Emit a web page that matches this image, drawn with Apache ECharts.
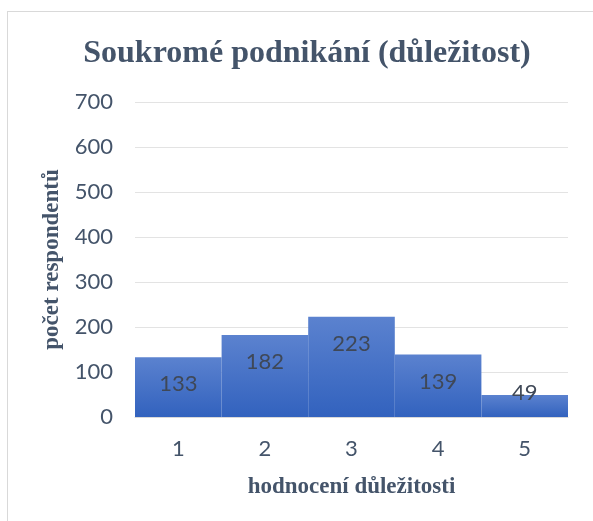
<!DOCTYPE html>
<html lang="cs" style="height: 100%">
<head>
  <meta charset="utf-8">
  <title>Soukromé podnikání (důležitost)</title>
</head>
<body style="height: 100%; margin: 0; background: #fff">
  <div id="frame" style="position: absolute; left: 7px; top: 11px; width: 600px; height: 520px; border-left: 1px solid #d9d9d9; border-top: 1px solid #d9d9d9;"></div>
  <div id="chart_div" style="position: absolute; left: 0; top: 0; width: 593px; height: 521px;"></div>

  <script type="text/javascript" src="https://fastly.jsdelivr.net/npm/echarts@6.0.0/dist/echarts.min.js"></script>
  <script type="text/javascript">
    // hodnoty z grafu
    var categories = ['1', '2', '3', '4', '5'];
    var counts = [133, 182, 223, 139, 49];
    var yTicks = [0, 100, 200, 300, 400, 500, 600, 700];

    var textColor = '#44546a';

    var myChart = echarts.init(document.getElementById('chart_div'), null, { renderer: 'canvas' });

    var barData = counts.map(function (v) {
      var item = { value: v };
      // maly sloupec - popisek presahuje nad sloupec
      if (v < 80) {
        item.label = { position: 'insideBottom', distance: 13 };
      }
      return item;
    });

    var option = {
      backgroundColor: 'transparent',
      animation: false,
      title: {
        text: 'Soukromé podnikání (důležitost)',
        left: 302,
        top: 33,
        textAlign: 'center',
        textStyle: {
          fontFamily: 'Liberation Serif',
          fontWeight: 'bold',
          fontSize: 32,
          color: textColor
        }
      },
      grid: {
        left: 135,
        right: 25,
        top: 102,
        bottom: 104
      },
      xAxis: {
        type: 'category',
        data: categories,
        name: 'hodnocení důležitosti',
        nameLocation: 'middle',
        nameGap: 59,
        nameTextStyle: {
          fontFamily: 'Liberation Serif',
          fontWeight: 'bold',
          fontSize: 23,
          color: textColor
        },
        axisLine: { lineStyle: { color: '#d9d9d9', width: 1 } },
        axisTick: { show: false },
        axisLabel: {
          fontFamily: 'Lato',
          fontSize: 22,
          color: textColor,
          margin: 21
        }
      },
      yAxis: {
        type: 'value',
        min: yTicks[0],
        max: yTicks[yTicks.length - 1],
        interval: 100,
        name: 'počet respondentů',
        nameLocation: 'middle',
        nameGap: 66,
        nameTextStyle: {
          fontFamily: 'Liberation Serif',
          fontWeight: 'bold',
          fontSize: 23,
          color: textColor
        },
        axisLine: { show: false },
        axisTick: { show: false },
        splitLine: { lineStyle: { color: '#e3e3e3', width: 1 } },
        axisLabel: {
          fontFamily: 'Lato',
          fontSize: 22,
          color: textColor,
          margin: 22
        }
      },
      series: [
        {
          type: 'bar',
          data: barData,
          barCategoryGap: 0,
          itemStyle: {
            color: new echarts.graphic.LinearGradient(0, 0, 0, 1, [
              { offset: 0, color: '#5b82cf' },
              { offset: 1, color: '#3262be' }
            ])
          },
          label: {
            show: true,
            position: 'insideTop',
            distance: 16,
            fontFamily: 'Lato',
            fontSize: 22,
            color: '#3f4857'
          }
        }
      ]
    };

    myChart.setOption(option);
  </script>
</body>
</html>
